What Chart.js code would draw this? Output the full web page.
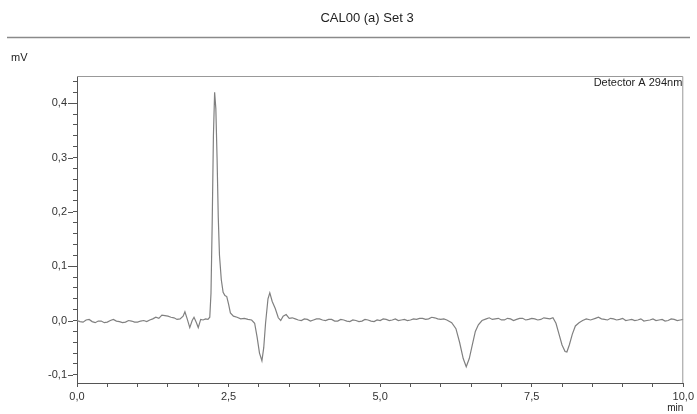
<!DOCTYPE html>
<html>
<head>
<meta charset="utf-8">
<script src="https://cdn.jsdelivr.net/npm/chart.js@4/dist/chart.umd.min.js"></script>
<style>
  html, body { margin: 0; padding: 0; background: #fff; }
  #wrap { width: 697px; height: 414px; position: relative; }
</style>
</head>
<body>
<div id="wrap"><canvas id="chromChart" width="697" height="414"></canvas></div>
<script>
// retention time (min) and detector signal (mV)
const timeMin = [
  0.0, 0.05, 0.1, 0.15, 0.2, 0.25, 0.3, 0.35, 0.4, 0.45, 0.5, 0.55, 0.6, 0.65, 0.7, 0.75, 0.8, 0.85, 0.9, 0.95,
  1.0, 1.05, 1.1, 1.15, 1.2, 1.25, 1.3, 1.35, 1.4, 1.45, 1.5, 1.55, 1.6, 1.65, 1.7,
  1.75, 1.78, 1.82, 1.86, 1.9, 1.93, 1.97, 2.0, 2.04, 2.08, 2.12, 2.16, 2.19,
  2.21, 2.23, 2.25, 2.27, 2.29, 2.31, 2.33, 2.35, 2.38, 2.41, 2.44, 2.47, 2.50, 2.53,
  2.58, 2.64, 2.70, 2.76, 2.82, 2.88, 2.93, 2.97, 3.01, 3.05, 3.08, 3.11, 3.15, 3.18,
  3.22, 3.27, 3.32, 3.36, 3.40, 3.45, 3.50,
  3.55, 3.6, 3.65, 3.7, 3.75, 3.8, 3.85, 3.9, 3.95, 4.0, 4.05, 4.1, 4.15, 4.2, 4.25, 4.3, 4.35, 4.4, 4.45, 4.5,
  4.55, 4.6, 4.65, 4.7, 4.75, 4.8, 4.85, 4.9, 4.95, 5.0, 5.05, 5.1, 5.15, 5.2, 5.25, 5.3, 5.35, 5.4, 5.45, 5.5,
  5.55, 5.6, 5.65, 5.7, 5.75, 5.8, 5.85, 5.9, 5.95, 6.0, 6.05, 6.1,
  6.18, 6.25, 6.31, 6.37, 6.42, 6.47, 6.52, 6.57, 6.62, 6.68, 6.75,
  6.8, 6.85, 6.9, 6.95, 7.0, 7.05, 7.1, 7.15, 7.2, 7.25, 7.3, 7.35, 7.4, 7.45, 7.5, 7.55, 7.6, 7.65, 7.7, 7.75, 7.8, 7.85,
  7.9, 7.95, 8.0, 8.05, 8.08, 8.12, 8.17, 8.22, 8.28, 8.34, 8.4, 8.47,
  8.55, 8.6, 8.65, 8.7, 8.75, 8.8, 8.85, 8.9, 8.95, 9.0, 9.05, 9.1, 9.15, 9.2, 9.25, 9.3, 9.35, 9.4, 9.45, 9.5,
  9.55, 9.6, 9.65, 9.7, 9.75, 9.8, 9.85, 9.9, 9.95, 10.0
];
const signalMv = [
  0.000, -0.002, -0.003, 0.001, 0.002, -0.002, -0.004, -0.001, -0.001, -0.004, -0.003, 0.000, 0.002, -0.001, -0.002, -0.004, -0.003, 0.000, -0.001, -0.003,
  -0.003, -0.001, 0.000, -0.002, 0.001, 0.003, 0.006, 0.004, 0.010, 0.009, 0.008, 0.006, 0.005, 0.002, 0.003,
  0.008, 0.016, 0.002, -0.013, 0.000, 0.006, -0.004, -0.013, 0.002, 0.001, 0.003, 0.002, 0.006,
  0.050, 0.180, 0.340, 0.420, 0.390, 0.300, 0.190, 0.120, 0.075, 0.052, 0.046, 0.044, 0.030, 0.014,
  0.008, 0.006, 0.003, 0.004, 0.002, 0.001, -0.005, -0.030, -0.060, -0.074, -0.050, -0.005, 0.040, 0.051,
  0.035, 0.022, 0.005, 0.000, 0.008, 0.011, 0.004,
  0.005, 0.003, 0.001, 0.000, 0.003, 0.002, -0.001, 0.001, 0.003, 0.003, 0.001, 0.000, 0.002, 0.002, -0.001, -0.001, 0.002, 0.001, -0.001, -0.002,
  0.001, 0.000, -0.002, -0.001, 0.002, 0.001, -0.001, -0.002, 0.001, 0.000, 0.003, 0.002, 0.000, 0.001, 0.003, 0.000, 0.001, 0.002, 0.000, 0.001,
  0.003, 0.002, 0.004, 0.004, 0.002, 0.003, 0.006, 0.005, 0.003, 0.002, 0.003, 0.001,
  -0.004, -0.015, -0.040, -0.070, -0.085, -0.070, -0.045, -0.020, -0.008, 0.000, 0.003,
  0.005, 0.002, 0.003, 0.004, 0.001, 0.001, 0.004, 0.003, 0.000, 0.002, 0.004, 0.004, 0.001, 0.002, 0.004, 0.003, 0.001, 0.002, 0.005, 0.004, 0.003, 0.005,
  -0.005, -0.025, -0.045, -0.057, -0.058, -0.045, -0.025, -0.010, -0.004, 0.000, 0.003, 0.001,
  0.004, 0.006, 0.003, 0.002, 0.001, 0.004, 0.003, 0.001, 0.002, 0.004, 0.000, 0.001, 0.002, 0.000, 0.001, 0.003, -0.001, 0.000, 0.001, 0.003,
  0.000, 0.001, 0.002, -0.001, 0.000, 0.003, 0.002, 0.000, 0.001, 0.002
];

const xLabelStep = 2.5;
const yLabelStep = 0.1;

function isMultiple(v, step) {
  const r = v / step;
  return Math.abs(r - Math.round(r)) < 1e-6;
}
function fmt(v) {
  return v.toFixed(1).replace('.', ',');
}

const points = timeMin.map((t, i) => ({ x: t, y: signalMv[i] }));

// title, frame, unit labels and longer major y ticks
const decor = {
  id: 'decor',
  afterDraw(chart) {
    const c = chart.ctx;
    const a = chart.chartArea;
    c.save();
    c.fillStyle = '#222';
    c.font = '13px "Liberation Sans", Arial, sans-serif';
    c.textAlign = 'center';
    c.textBaseline = 'middle';
    c.fillText('CAL00 (a) Set 3', 367, 18);

    c.strokeStyle = '#8a8a8a';
    c.lineWidth = 1.5;
    c.beginPath();
    c.moveTo(7, 37.5);
    c.lineTo(690, 37.5);
    c.stroke();

    c.font = '11px "Liberation Sans", Arial, sans-serif';
    c.textAlign = 'left';
    c.fillText('mV', 11, 58);
    c.textAlign = 'right';
    c.fillText('Detector A 294nm', a.right - 1, a.top + 7);
    c.font = '10px "Liberation Sans", Arial, sans-serif';
    c.fillText('min', a.right, 408);

    // top and right frame lines
    c.strokeStyle = '#999';
    c.lineWidth = 1;
    c.beginPath();
    c.moveTo(a.left, a.top + 0.5);
    c.lineTo(a.right - 0.5, a.top + 0.5);
    c.lineTo(a.right - 0.5, a.bottom);
    c.stroke();

    // major y ticks are longer
    const ys = chart.scales.y;
    c.strokeStyle = '#555';
    ys.ticks.forEach(tk => {
      if (isMultiple(tk.value, yLabelStep)) {
        const py = Math.round(ys.getPixelForValue(tk.value)) + 0.5;
        c.beginPath();
        c.moveTo(a.left - 9, py);
        c.lineTo(a.left - 4, py);
        c.stroke();
      }
    });
    c.restore();
  }
};

new Chart(document.getElementById('chromChart').getContext('2d'), {
  type: 'line',
  data: {
    datasets: [{
      data: points,
      borderColor: '#808080',
      borderWidth: 1.2,
      pointRadius: 0,
      tension: 0,
      fill: false
    }]
  },
  options: {
    responsive: false,
    animation: false,
    layout: { padding: { top: 76, right: 9, left: 0, bottom: 0 } },
    plugins: {
      legend: { display: false },
      tooltip: { enabled: false },
      title: { display: false }
    },
    scales: {
      x: {
        type: 'linear',
        min: 0,
        max: 10,
        afterFit(s) { s.height = 31; },
        border: { display: true, color: '#555', width: 1 },
        grid: { drawOnChartArea: false, drawTicks: true, tickLength: 4, color: '#555' },
        ticks: {
          stepSize: 0.5,
          autoSkip: false,
          maxRotation: 0,
          padding: 3,
          color: '#333',
          font: { family: '"Liberation Sans", Arial, sans-serif', size: 11 },
          callback: v => isMultiple(v, xLabelStep) ? fmt(v) : ''
        }
      },
      y: {
        type: 'linear',
        min: -0.115,
        max: 0.45,
        afterFit(s) { s.width = 77; },
        border: { display: true, color: '#555', width: 1 },
        grid: { drawOnChartArea: false, drawTicks: true, tickLength: 4, color: '#555' },
        ticks: {
          stepSize: 0.02,
          includeBounds: false,
          autoSkip: false,
          padding: 6,
          color: '#333',
          font: { family: '"Liberation Sans", Arial, sans-serif', size: 11 },
          callback: v => isMultiple(v, yLabelStep) ? fmt(v) : ''
        }
      }
    }
  },
  plugins: [decor]
});
</script>
</body>
</html>
